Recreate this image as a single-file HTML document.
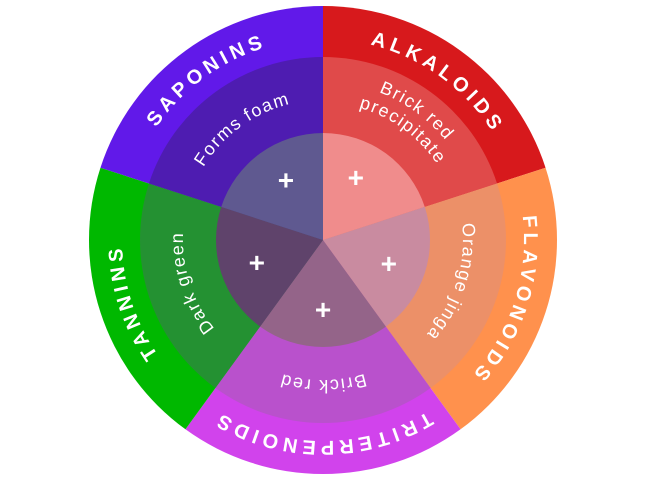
<!DOCTYPE html>
<html><head><meta charset="utf-8">
<style>
html,body{margin:0;padding:0;background:#fff;}
svg{display:block;}
text{font-family:"Liberation Sans",sans-serif;fill:#fff;}
</style></head>
<body>
<svg id="s" width="646" height="481" viewBox="0 0 646 481" xmlns="http://www.w3.org/2000/svg"></svg>
<script>
const s=document.getElementById('s');
const cx=323,cy=240,R=234,M=183,I=107;
const NS='http://www.w3.org/2000/svg';
function P(r,a){a=a*Math.PI/180;return [cx+r*Math.cos(a),cy+r*Math.sin(a)];}
function sector(r,a0,a1,fill){
  const p0=P(r,a0),p1=P(r,a1);
  const e=document.createElementNS(NS,'path');
  e.setAttribute('d',`M${cx},${cy}L${p0[0]},${p0[1]}A${r},${r} 0 0 1 ${p1[0]},${p1[1]}Z`);
  e.setAttribute('fill',fill);s.appendChild(e);
}
let id=0;
function arcText(r,mid,txt,size,weight,ls){
  const a0=mid-80,a1=mid+80;const p0=P(r,a0),p1=P(r,a1);
  const d=document.createElementNS(NS,'path');const pid='p'+(id++);
  d.setAttribute('id',pid);d.setAttribute('fill','none');
  d.setAttribute('d',`M${p0[0]},${p0[1]}A${r},${r} 0 0 1 ${p1[0]},${p1[1]}`);
  s.appendChild(d);
  const t=document.createElementNS(NS,'text');
  t.setAttribute('font-size',size);t.setAttribute('font-weight',weight);
  t.setAttribute('letter-spacing',ls);
  const tp=document.createElementNS(NS,'textPath');
  tp.setAttribute('href','#'+pid);tp.setAttribute('startOffset','50%');
  tp.setAttribute('text-anchor','middle');tp.textContent=txt;
  t.appendChild(tp);s.appendChild(t);
}
const segs=[
 {a:-90,o:'#d7191c',m:'#e04a4a',i:'#f08c8c',n:'ALKALOIDS',t:['Brick red','precipitate'],pa:-62},
 {a:-18,o:'#ff914d',m:'#ec9068',i:'#c98ba0',n:'FLAVONOIDS',t:['Orange jinga'],pa:20},
 {a:54,o:'#d143ec',m:'#b951cc',i:'#946489',n:'TRITERPENOIDS',t:['Brick red'],pa:90},
 {a:126,o:'#00b800',m:'#249132',i:'#5f436b',n:'TANNINS',t:['Dark green'],pa:161},
 {a:198,o:'#6119e9',m:'#4e1cb1',i:'#5f5990',n:'SAPONINS',t:['Forms foam'],pa:238}
];
segs.forEach(g=>sector(R,g.a,g.a+72,g.o));
segs.forEach(g=>sector(M,g.a,g.a+72,g.m));
segs.forEach(g=>sector(I,g.a,g.a+72,g.i));
segs.forEach(g=>{
  const mid=g.a+36;
  arcText(201,mid,g.n,20,'bold',4.5);
  if(g.t.length==2){arcText(158,mid,g.t[0],18,'normal',1.5);arcText(137,mid,g.t[1],18,'normal',1.5);}
  else arcText(140,mid,g.t[0],18,'normal',1.5);
  const p=P(70,g.pa);
  const t=document.createElementNS(NS,'text');
  t.setAttribute('x',p[0]);t.setAttribute('y',p[1]+9);
  t.setAttribute('font-size',28);t.setAttribute('font-weight','bold');
  t.setAttribute('text-anchor','middle');t.textContent='+';s.appendChild(t);
});
</script>
</body></html>
